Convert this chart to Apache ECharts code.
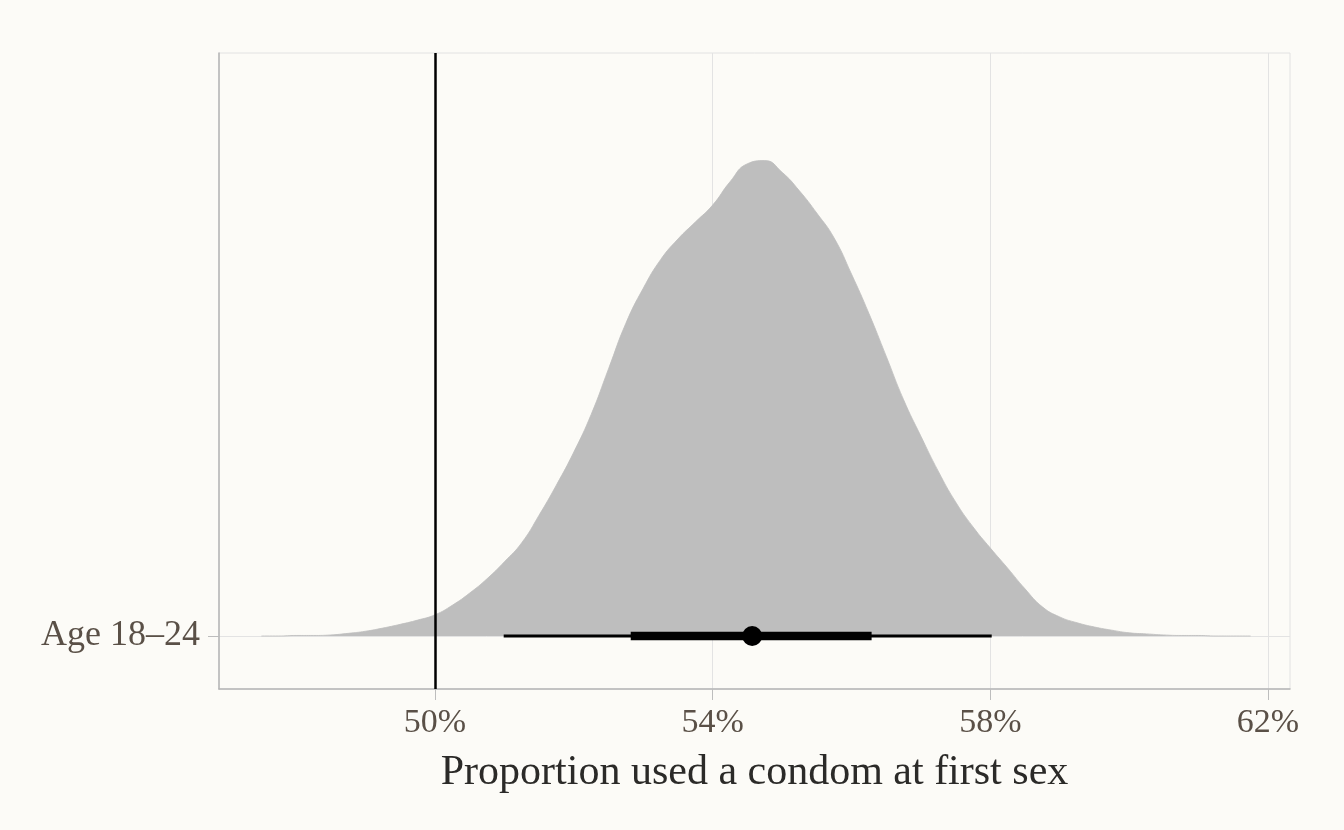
<!DOCTYPE html>
<html>
<head>
<meta charset="utf-8">
<script src="https://cdn.jsdelivr.net/npm/echarts@6/dist/echarts.min.js"></script>
<style>
html,body{margin:0;padding:0;background:#fcfbf7;}
#chart{width:1344px;height:830px;}
</style>
</head>
<body>
<div id="chart"></div>
<script>
// ---- data ----
const categories = ['Age 18–24'];
const xTicks = [50, 54, 58, 62];
const xTitle = 'Proportion used a condom at first sex';
// posterior density (x in %, height relative; peak = 0.9)
const densityX = [47.50, 47.75, 48.00, 48.25, 48.50, 48.75, 49.00, 49.25, 49.50, 49.75, 50.00, 50.25, 50.50, 50.75, 51.00, 51.25, 51.50, 51.75, 52.00, 52.25, 52.50, 52.75, 53.00, 53.25, 53.50, 53.75, 54.00, 54.25, 54.50, 54.75, 55.00, 55.25, 55.50, 55.75, 56.00, 56.25, 56.50, 56.75, 57.00, 57.25, 57.50, 57.75, 58.00, 58.25, 58.50, 58.75, 59.00, 59.25, 59.50, 59.75, 60.00, 60.25, 60.50, 60.75, 61.00, 61.25, 61.50, 61.75];
const densityY = [0.000, 0.000, 0.001, 0.001, 0.002, 0.005, 0.009, 0.015, 0.022, 0.030, 0.040, 0.058, 0.081, 0.108, 0.140, 0.176, 0.228, 0.285, 0.347, 0.418, 0.504, 0.590, 0.656, 0.710, 0.749, 0.781, 0.813, 0.857, 0.891, 0.897, 0.875, 0.840, 0.798, 0.751, 0.683, 0.609, 0.528, 0.446, 0.377, 0.311, 0.253, 0.206, 0.166, 0.128, 0.089, 0.055, 0.036, 0.025, 0.017, 0.011, 0.006, 0.004, 0.002, 0.001, 0.001, 0.000, 0.000, 0.000];
const interval95 = [50.99, 58.02];
const interval66 = [52.82, 56.29];
const median = 54.57;
const referenceLine = 50;

const font = '"Liberation Serif", "DejaVu Serif", serif';
const chart = echarts.init(document.getElementById('chart'), null, {renderer: 'canvas'});

chart.setOption({
  backgroundColor: '#fcfbf7',
  animation: false,
  grid: {left: 219, right: 54, top: 53, bottom: 141, show: true, borderColor: '#e2e2e2', borderWidth: 1, backgroundColor: 'transparent'},
  xAxis: {
    type: 'value', min: 46.889, max: 62.317,
    name: xTitle, nameLocation: 'middle', nameGap: 63,
    nameTextStyle: {fontFamily: font, fontSize: 42, color: '#2b2a28'},
    axisLine: {show: true, onZero: false, lineStyle: {color: '#b5b5b5', width: 1.5}},
    axisTick: {show: true, length: 11, customValues: xTicks, lineStyle: {color: '#bdbdbd', width: 1}},
    axisLabel: {customValues: xTicks, formatter: v => v + '%', fontFamily: font, fontSize: 34, color: '#5a5047', margin: 17},
    splitLine: {show: true, lineStyle: {color: '#e3e3e3', width: 1}}
  },
  yAxis: {
    type: 'value', min: -0.1, max: 1.1,
    axisLine: {show: true, onZero: false, lineStyle: {color: '#b5b5b5', width: 1.5}},
    axisTick: {show: true, length: 11, customValues: [0], lineStyle: {color: '#bdbdbd', width: 1}},
    axisLabel: {customValues: [0], formatter: v => categories[0], fontFamily: font, fontSize: 36, color: '#5a5047', margin: 19},
    splitLine: {show: true, lineStyle: {color: '#e3e3e3', width: 1}}
  },
  series: [
    {
      type: 'line', name: 'density', data: densityX.map((x, i) => [x, densityY[i]]),
      smooth: 0.5, symbol: 'none', z: 2,
      lineStyle: {width: 0.8, color: '#bebebe'},
      areaStyle: {color: '#bebebe', opacity: 1, origin: 0}
    },
    {
      type: 'line', name: 'ref', data: [], z: 5,
      markLine: {silent: true, symbol: 'none', label: {show: false},
        lineStyle: {color: '#000', width: 2.5, type: 'solid'},
        data: [{xAxis: referenceLine}]}
    },
    {
      type: 'line', name: '95%', data: interval95.map(x => [x, 0]), symbol: 'none', z: 6,
      lineStyle: {color: '#000', width: 3}
    },
    {
      type: 'line', name: '66%', data: interval66.map(x => [x, 0]), symbol: 'none', z: 7,
      lineStyle: {color: '#000', width: 8.5}
    },
    {
      type: 'scatter', name: 'median', data: [[median, 0]], symbol: 'circle', symbolSize: 20, z: 8,
      itemStyle: {color: '#000', opacity: 1}
    }
  ]
});
</script>
</body>
</html>
